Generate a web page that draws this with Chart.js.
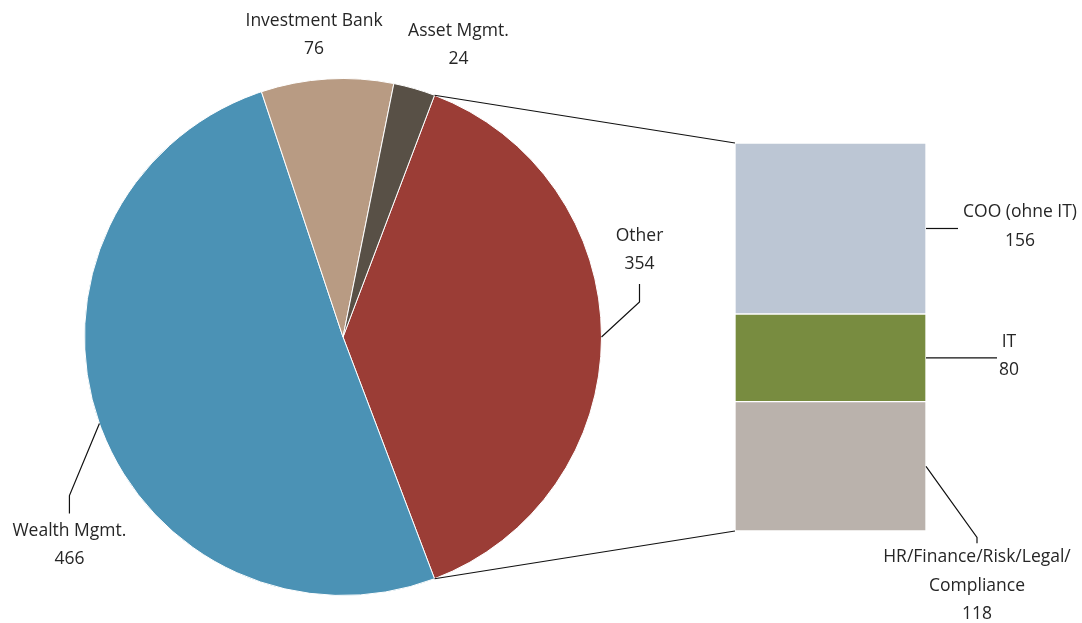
<!DOCTYPE html>
<html>
<head>
<meta charset="utf-8">
<script src="https://cdn.jsdelivr.net/npm/chart.js@4.4.1/dist/chart.umd.min.js"></script>
<style>
  html, body { margin: 0; background: #fff; }
  #wrap { position: relative; width: 1082px; height: 623px; }
  #wrap canvas { position: absolute; left: 0; top: 0; }
</style>
</head>
<body>
<div id="wrap">
  <canvas id="pie" width="1082" height="623"></canvas>
  <canvas id="bar" width="1082" height="623"></canvas>
</div>
<script>
// Mitarbeiter nach Bereich (Pie) und Aufteilung von "Other" (gestapelter Balken)
const pieLabels = ['Other', 'Wealth Mgmt.', 'Investment Bank', 'Asset Mgmt.'];
const pieValues = [354, 466, 76, 24];
const pieColors = ['#9b3d36', '#4b92b5', '#b89b83', '#585046'];

// von unten nach oben gestapelt
const barLabels = ['HR/Finance/Risk/Legal/\nCompliance', 'IT', 'COO (ohne IT)'];
const barValues = [118, 80, 156];
const barColors = ['#bab2ac', '#788c40', '#bcc6d4'];

const FONT = '17.5px "Open Sans", "Noto Sans", sans-serif';
const TEXT = '#262626';
const LINE_H = 28.5;

// Beschriftungs-Layout relativ zum Ankerpunkt (Mitte des Segments am Rand)
const pieLayout = [
  { leader: [[38, -35], [38, -53]], text: [38, -101] },
  { leader: [[-30, 72], [-30, 90]], text: [-30, 107] },
  { leader: null, text: [-13, -58] },
  { leader: null, text: [44, -58] }
];
const barLayout = [
  { leader: [[51, 71], [51, 77]], text: [51, 91] },
  { leader: [[71, 0]], text: [83, -16] },
  { leader: [[32, 0]], text: [94, -16] }
];

const total = pieValues.reduce((a, b) => a + b, 0);
// "Other" mittig auf der rechten Seite ausrichten
const rotation = 90 - (pieValues[0] / total) * 180;

const pieChart = new Chart(document.getElementById('pie'), {
  type: 'pie',
  data: {
    labels: pieLabels,
    datasets: [{ data: pieValues, backgroundColor: pieColors, borderColor: '#fff', borderWidth: 1 }]
  },
  options: {
    responsive: false,
    animation: false,
    rotation: rotation,
    layout: { padding: { left: 84, right: 480, top: 78, bottom: 27 } },
    plugins: { legend: { display: false }, tooltip: { enabled: false } }
  }
});

function drawLines(ctx, text, x, y) {
  text.split('\n').forEach((t, i) => ctx.fillText(t, x, y + i * LINE_H));
}

function drawLeader(ctx, ax, ay, leader) {
  if (!leader) return;
  ctx.beginPath();
  ctx.moveTo(ax, ay);
  leader.forEach(([dx, dy]) => ctx.lineTo(ax + dx, ay + dy));
  ctx.stroke();
}

const beschriftung = {
  id: 'beschriftung',
  afterDraw(chart) {
    const ctx = chart.ctx;
    const pieMeta = pieChart.getDatasetMeta(0);
    ctx.save();
    ctx.strokeStyle = '#111';
    ctx.lineWidth = 1.2;

    // Verbindungslinien vom "Other"-Segment zum Balken
    const other = pieMeta.data[0];
    const r = other.outerRadius;
    const top = chart.getDatasetMeta(barValues.length - 1).data[0];
    const bottom = chart.getDatasetMeta(0).data[0];
    const left = top.x - top.width / 2;
    ctx.beginPath();
    ctx.moveTo(other.x + r * Math.cos(other.startAngle), other.y + r * Math.sin(other.startAngle));
    ctx.lineTo(left, top.y);
    ctx.moveTo(other.x + r * Math.cos(other.endAngle), other.y + r * Math.sin(other.endAngle));
    ctx.lineTo(left, bottom.base);
    ctx.stroke();

    ctx.font = FONT;
    ctx.fillStyle = TEXT;
    ctx.textAlign = 'center';
    ctx.textBaseline = 'middle';

    // Pie-Beschriftungen
    pieMeta.data.forEach((arc, i) => {
      const mid = (arc.startAngle + arc.endAngle) / 2;
      const ax = arc.x + arc.outerRadius * Math.cos(mid);
      const ay = arc.y + arc.outerRadius * Math.sin(mid);
      const l = pieLayout[i];
      drawLeader(ctx, ax, ay, l.leader);
      drawLines(ctx, pieLabels[i] + '\n' + pieValues[i], ax + l.text[0], ay + l.text[1]);
    });

    // Balken-Beschriftungen
    barValues.forEach((v, i) => {
      const el = chart.getDatasetMeta(i).data[0];
      const ax = el.x + el.width / 2;
      const ay = (el.y + el.base) / 2;
      const l = barLayout[i];
      drawLeader(ctx, ax, ay, l.leader);
      drawLines(ctx, barLabels[i] + '\n' + v, ax + l.text[0], ay + l.text[1]);
    });
    ctx.restore();
  }
};

new Chart(document.getElementById('bar'), {
  type: 'bar',
  data: {
    labels: ['Other'],
    datasets: barValues.map((v, i) => ({
      label: barLabels[i],
      data: [v],
      backgroundColor: barColors[i],
      borderColor: '#fff',
      borderWidth: 1,
      borderSkipped: false,
      categoryPercentage: 1,
      barPercentage: 1
    }))
  },
  options: {
    responsive: false,
    animation: false,
    layout: { padding: { left: 735, right: 156, top: 143, bottom: 92 } },
    scales: {
      x: { stacked: true, display: false },
      y: { stacked: true, display: false, min: 0, max: pieValues[0] }
    },
    plugins: { legend: { display: false }, tooltip: { enabled: false } }
  },
  plugins: [beschriftung]
});
</script>
</body>
</html>
